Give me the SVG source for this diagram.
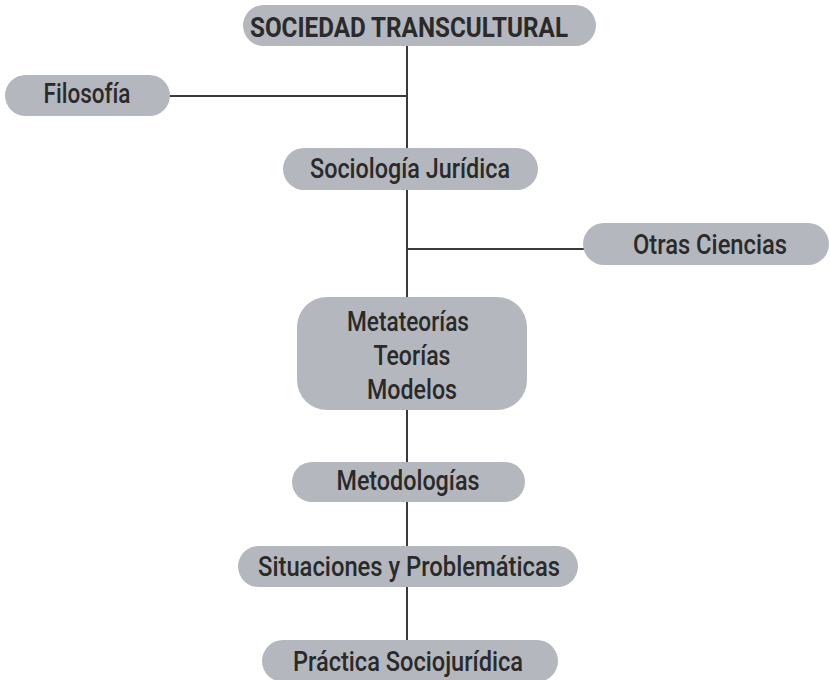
<svg xmlns="http://www.w3.org/2000/svg" width="830" height="680" viewBox="0 0 830 680">
<style>
.n{fill:#b4b7be;}
.t{font-family:Roboto,"Liberation Sans",Arial,sans-serif;font-weight:500;font-size:28px;fill:#2a2a2a;text-anchor:middle;}
.b{font-weight:bold;}
.c{stroke:#3a3a3a;stroke-width:2;fill:none;}
</style>
<rect width="830" height="680" fill="#ffffff"/>
<g id="connectors">
<line class="c" x1="407" y1="45" x2="407" y2="149"/>
<line class="c" x1="168" y1="96" x2="407" y2="96"/>
<line class="c" x1="407" y1="189" x2="407" y2="298"/>
<line class="c" x1="407" y1="249" x2="585" y2="249"/>
<line class="c" x1="407" y1="409" x2="407" y2="463"/>
<line class="c" x1="407" y1="501" x2="407" y2="547"/>
<line class="c" x1="407" y1="586" x2="407" y2="641"/>
</g>
<g id="sociedad">
<rect class="n" x="243" y="5" width="353" height="41" rx="20.5"/>
<text class="t b" x="409" y="37" font-size="31" textLength="318" lengthAdjust="spacingAndGlyphs">SOCIEDAD TRANSCULTURAL</text>
</g>
<g id="filosofia">
<rect class="n" x="5" y="75" width="165" height="41" rx="20.5"/>
<text class="t" x="87" y="103" textLength="87" lengthAdjust="spacingAndGlyphs">Filosofía</text>
</g>
<g id="sociologia">
<rect class="n" x="283" y="148" width="255" height="42" rx="21"/>
<text class="t" x="410" y="178" textLength="200" lengthAdjust="spacingAndGlyphs">Sociología Jurídica</text>
</g>
<g id="otras">
<rect class="n" x="583" y="223" width="246" height="42" rx="21"/>
<text class="t" x="710" y="254" textLength="154" lengthAdjust="spacingAndGlyphs">Otras Ciencias</text>
</g>
<g id="metateorias">
<rect class="n" x="297" y="297" width="230" height="113" rx="30"/>
<text class="t" x="408" y="331" textLength="122" lengthAdjust="spacingAndGlyphs">Metateorías</text>
<text class="t" x="412" y="365" textLength="77" lengthAdjust="spacingAndGlyphs">Teorías</text>
<text class="t" x="412" y="399" textLength="90" lengthAdjust="spacingAndGlyphs">Modelos</text>
</g>
<g id="metodologias">
<rect class="n" x="292" y="462" width="233" height="40" rx="20"/>
<text class="t" x="408" y="490" textLength="143" lengthAdjust="spacingAndGlyphs">Metodologías</text>
</g>
<g id="situaciones">
<rect class="n" x="238" y="546" width="340" height="41" rx="20.5"/>
<text class="t" x="409" y="576" textLength="302" lengthAdjust="spacingAndGlyphs">Situaciones y Problemáticas</text>
</g>
<g id="practica">
<rect class="n" x="262" y="640" width="296" height="42" rx="21"/>
<text class="t" x="408" y="671" textLength="230" lengthAdjust="spacingAndGlyphs">Práctica Sociojurídica</text>
</g>
</svg>
